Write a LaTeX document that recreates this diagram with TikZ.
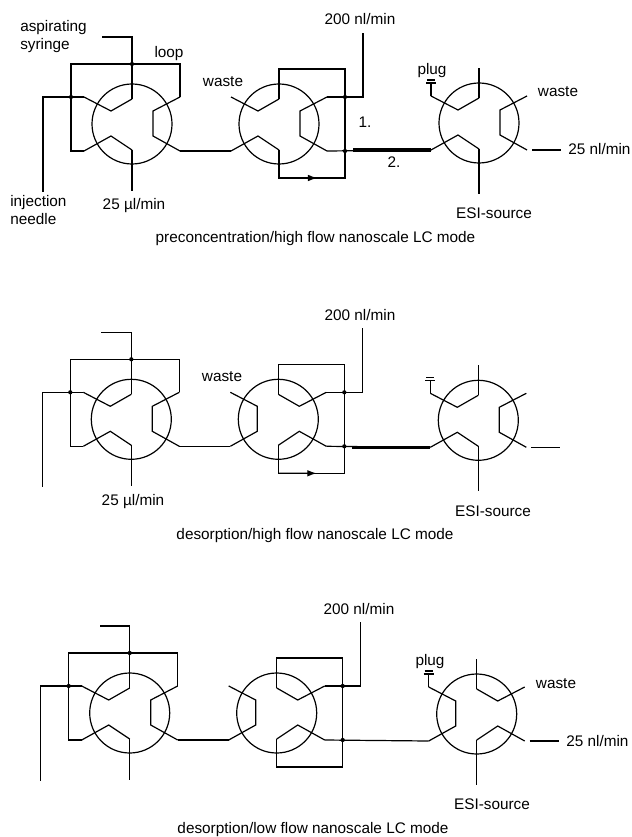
\documentclass[tikz,border=0pt]{standalone}
\usepackage{fontspec}
\setmainfont{Liberation Sans}
\usetikzlibrary{arrows.meta, positioning, calc}

\tikzset{
  valve/.style={draw, circle, line width=0.9pt, minimum size=60pt, inner sep=0pt},
  tube/.style={line width=0.9pt},
  widetube/.style={line width=2.4pt},
  hop/.style={circle, fill=black, inner sep=0pt, minimum size=3.2pt},
  txt/.style={inner sep=0pt, align=left, font=\fontsize{11.5}{13.5}\selectfont}
}

% ports of a valve, given by the name of its circle
\newcommand{\valveports}[1]{
  \coordinate (#1-ul) at ($(#1)+(-48,-27)$);
  \coordinate (#1-ur) at ($(#1)+(48,-27)$);
  \coordinate (#1-ll) at ($(#1)+(-48,27)$);
  \coordinate (#1-lr) at ($(#1)+(48,27)$);
  \coordinate (#1-t) at ($(#1)+(0,-25)$);
  \coordinate (#1-b) at ($(#1)+(0,26)$);
  \coordinate (#1-il) at ($(#1)+(-21,-13)$);
  \coordinate (#1-ir) at ($(#1)+(21,-13)$);
  \coordinate (#1-jl) at ($(#1)+(-21,12)$);
  \coordinate (#1-jr) at ($(#1)+(21,12)$);
}
\newcommand{\valveA}[1]{
  \draw[tube] (#1-ul) -- (#1-il) -- (#1-t);
  \draw[tube] (#1-ur) -- (#1-ir) -- (#1-jr) -- (#1-lr);
  \draw[tube] (#1-ll) -- (#1-jl) -- (#1-b);
}
\newcommand{\valveB}[1]{
  \draw[tube] (#1-t) -- (#1-ir) -- (#1-ur);
  \draw[tube] (#1-b) -- (#1-jr) -- (#1-lr);
  \draw[tube] (#1-ul) -- (#1-il) -- (#1-jl) -- (#1-ll);
}

\begin{document}
\begin{tikzpicture}[x=0.75pt, y=-0.75pt]
  \useasboundingbox (0,0) rectangle (631,837);

  % the three panels share their tubing
  \foreach \p/\dx/\dy/\cy in {1/0/0/123, 2/-0.7/295.3/125, 3/-2.3/589/125} {
    \node[valve] (a\p) at (132+\dx,124+\dy) {};
    \node[valve] (b\p) at (279+\dx,124+\dy) {};
    \node[valve] (c\p) at (479+\dx,\cy+\dy) {};
    \valveports{a\p}
    \valveports{b\p}
    \valveports{c\p}

    % syringe, needle and loop
    \coordinate (s\p) at ($(a\p-t)+(-30,-62)$);
    \coordinate (n\p) at ($(a\p-ul)+(-41,95)$);
    \coordinate (la\p) at ($(a\p-ul)+(-13,-33)$);
    \coordinate (lb\p) at ($(a\p-ur)+(0,-33)$);
    \coordinate (e\p) at ($(a\p-b)+(0,41)$);
    \draw[tube] (a\p-t) |- (s\p);
    \draw[tube] (a\p-ul) -| (n\p);
    \draw[tube] (a\p-ll) -| (la\p) -- (lb\p) -- (a\p-ur);
    \draw[tube] (a\p-b) -- (e\p);
    \draw[tube] (a\p-lr) -- (b\p-ll);
    \node[hop] (ha\p) at (a\p-t |- la\p) {};
    \node[hop] (hb\p) at (la\p |- a\p-ul) {};

    % bypass round the second valve
    \coordinate (ta\p) at ($(b\p-t)+(0,-30)$);
    \coordinate (tb\p) at ($(b\p-t)+(66,-30)$);
    \coordinate (tc\p) at ($(b\p-b)+(66,28)$);
    \coordinate (td\p) at ($(b\p-b)+(0,28)$);
    \coordinate (f\p) at ($(b\p-ur)+(36,-64)$);
    \draw[tube] (b\p-t) -- (ta\p) -- (tb\p) -- (tc\p) -- (td\p) -- (b\p-b);
    \draw[tube] (b\p-ur) -| (f\p);
    \draw[tube] (b\p-lr) -- (c\p-ll);
    \node[hop] (hc\p) at (tb\p |- b\p-ur) {};
    \node[hop] (hd\p) at (tb\p |- b\p-lr) {};

    % third valve, its stubs and the plug
    \coordinate (q\p) at ($(c\p-ul)+(0,-13)$);
    \coordinate (u\p) at ($(c\p-t)+(0,-30)$);
    \coordinate (w\p) at ($(c\p-b)+(0,45)$);
    \coordinate (ga\p) at ($(c\p-lr)+(5,0)$);
    \coordinate (gb\p) at ($(c\p-lr)+(34,0)$);
    \draw[tube] (c\p-ul) -- (q\p);
    \draw[tube] ($(q\p)+(-5,0)$) -- ($(q\p)+(5,0)$);
    \draw[tube] ($(q\p)+(-4,-3)$) -- ($(q\p)+(4,-3)$);
    \draw[tube] (c\p-t) -- (u\p);
    \draw[tube] (c\p-b) -- (w\p);
    \draw[tube] (ga\p) -- (gb\p);
  }

  \valveA{a1} \valveA{b1} \valveA{c1}
  \valveA{a2} \valveB{b2} \valveA{c2}
  \valveA{a3} \valveB{b3} \valveB{c3}

  % only the upper two panels have the wide capillary and the arrow
  \foreach \p in {1,2} {
    \coordinate (k\p) at ($(c\p-ll)+(-78,0)$);
    \draw[widetube] (k\p) -- (c\p-ll);
    \draw[tube, -{Latex[length=7pt,width=5pt]}] (td\p) -- ($(td\p)!0.58!(tc\p)$);
  }

  % panel 1
  \node[txt, anchor=west] (syr) at (20,37) {aspirating\\syringe};
  \node[txt] (loop) at (169,54) {loop};
  \node[txt] (w1) at (223,82) {waste};
  \node[txt, anchor=west] (inj) at (10,210) {injection\\needle};
  \node[txt] (fl1) at (134,206) {25 µl/min};
  \node[txt] (nl1) at (360,19) {200 nl/min};
  \node[txt] (one) at (365,122) {1.};
  \node[txt] (two) at (394,162) {2.};
  \node[txt] (pg1) at (432,71) {plug};
  \node[txt] (w1b) at (558,92) {waste};
  \node[txt, anchor=west] (gs1) at (568,149) {25 nl/min};
  \node[txt] (esi1) at (494,213) {ESI-source};
  \node[txt] (cap1) at (315.5,239) {preconcentration/high flow nanoscale LC mode};

  % panel 2
  \node[txt] (w2) at (222,377) {waste};
  \node[txt] (fl2) at (133,502) {25 µl/min};
  \node[txt] (nl2) at (360,315) {200 nl/min};
  \node[txt] (esi2) at (493,511) {ESI-source};
  \node[txt] (cap2) at (315,536) {desorption/high flow nanoscale LC mode};

  % panel 3
  \node[txt] (nl3) at (359,609) {200 nl/min};
  \node[txt] (pg3) at (430,662) {plug};
  \node[txt] (w3) at (556,684) {waste};
  \node[txt, anchor=west] (gs3) at (566,741) {25 nl/min};
  \node[txt] (esi3) at (492,804) {ESI-source};
  \node[txt] (cap3) at (313,830) {desorption/low flow nanoscale LC mode};
\end{tikzpicture}
\end{document}
